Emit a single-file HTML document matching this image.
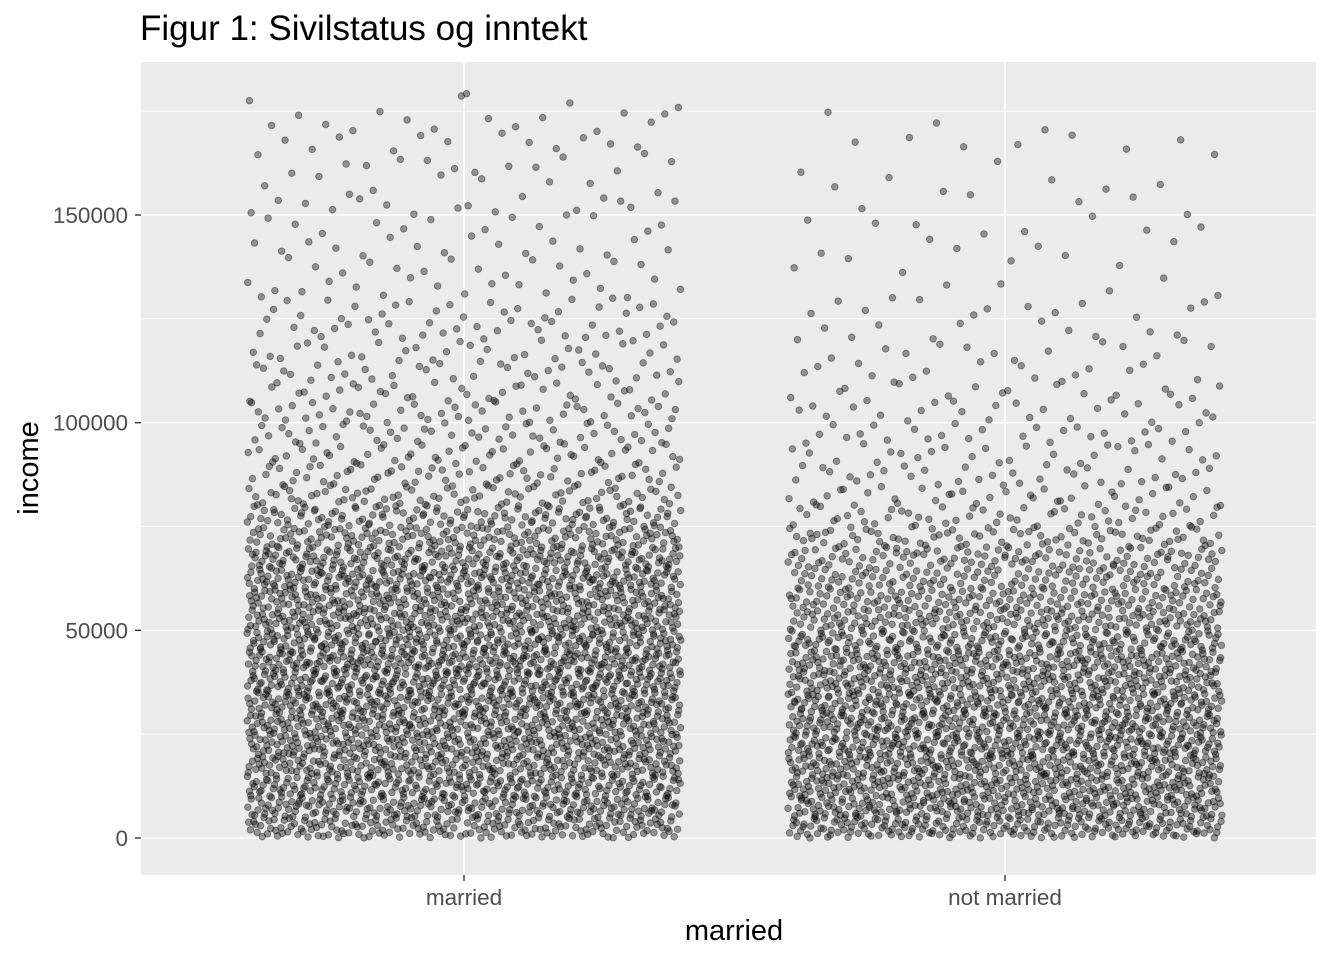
<!DOCTYPE html>
<html><head><meta charset="utf-8"><style>
body{margin:0;background:#fff;font-family:"Liberation Sans",Arial,sans-serif}
svg{display:block}
</style></head><body>
<svg id="chart" width="1344" height="960">
<text x="140" y="40" font-size="35" fill="#000">Figur 1: Sivilstatus og inntekt</text>
<rect x="141" y="62" width="1175" height="813" fill="#ebebeb"/>
<g id="grid"></g><g id="pts"></g><g id="axes"></g>
<text x="734" y="940" font-size="29" text-anchor="middle">married</text>
<text transform="translate(38,468) rotate(-90)" font-size="29" text-anchor="middle">income</text>
</svg>
<script>
const categories=["married","not married"];
const yTicks=[0,50000,100000,150000];
const yMinor=[25000,75000,125000,175000];
// income bins (lower edge, thousands; 5k wide)
const binStarts=[0,5,10,15,20,25,30,35,40,45,50,55,60,65,70,75,80,85,90,95,100,105,110,115,120,125,130,135,140,145,150,155,160,165,170,175];
// number of observations per bin
const marriedCounts=[180,200,200,205,215,215,220,220,230,215,210,200,205,180,145,118,75,58,50,45,45,34,34,28,30,24,18,14,16,12,18,8,14,12,14,5];
const notMarriedCounts=[195,210,210,210,215,210,205,195,195,170,155,140,115,105,78,50,38,32,26,26,22,20,14,14,10,12,6,5,6,8,5,6,3,7,3,0];
const counts=[marriedCounts,notMarriedCounts];

const NS="http://www.w3.org/2000/svg";
const y0=838, pxPer=623/150000;
const yScale=v=>y0-v*pxPer;
const xScale=i=>464+i*541;
function mk(t,a){const e=document.createElementNS(NS,t);for(const k in a)e.setAttribute(k,a[k]);return e;}
function halton(n,b){let f=1,r=0;while(n>0){f/=b;r+=f*(n%b);n=Math.floor(n/b);}return r;}
const grid=document.getElementById('grid'),axes=document.getElementById('axes'),pts=document.getElementById('pts');
yMinor.forEach(v=>{const l=mk('line',{x1:141,x2:1316,y1:yScale(v),y2:yScale(v),stroke:'#fff','stroke-width':0.8});

grid.appendChild(l);});
yTicks.forEach(v=>{const l=mk('line',{x1:141,x2:1316,y1:yScale(v),y2:yScale(v),stroke:'#fff','stroke-width':1.6});

grid.appendChild(l);
axes.appendChild(mk('line',{x1:135,x2:141,y1:yScale(v),y2:yScale(v),stroke:'#333','stroke-width':1.4}));
const tx=mk('text',{x:128,y:yScale(v)+8,'font-size':22.5,fill:'#4d4d4d','text-anchor':'end'});tx.textContent=v;

axes.appendChild(tx);});
let seq=1;
categories.forEach((c,i)=>{const x=xScale(i);
const l=mk('line',{x1:x,x2:x,y1:62,y2:875,stroke:'#fff','stroke-width':1.6});

grid.appendChild(l);
axes.appendChild(mk('line',{x1:x,x2:x,y1:875,y2:881,stroke:'#333','stroke-width':1.4}));
const tx=mk('text',{x:x,y:905,'font-size':22.5,fill:'#4d4d4d','text-anchor':'middle'});tx.textContent=c;

axes.appendChild(tx);
counts[i].forEach((n,b)=>{for(let k=0;k<n;k++){seq++;
const fx=halton(seq,2), fy=halton(seq,3);
const v=(binStarts[b]+fy*5)*1000;
const p=mk('circle',{cx:x-217+fx*434,cy:yScale(v),r:3.3,fill:'#000','fill-opacity':0.38,stroke:'#000','stroke-opacity':0.4,'stroke-width':0.9});

pts.appendChild(p);}});});
</script>
</body></html>
